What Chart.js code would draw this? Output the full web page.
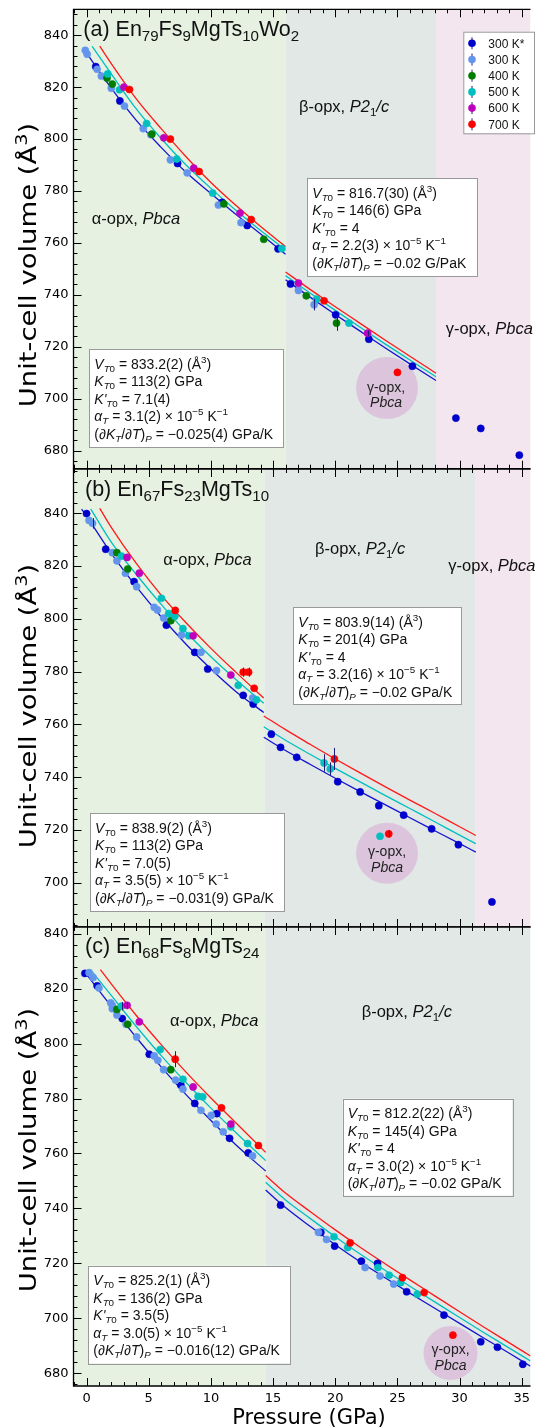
<!DOCTYPE html>
<html><head><meta charset="utf-8">
<script src="https://cdn.jsdelivr.net/npm/chart.js@4.4.1/dist/chart.umd.min.js"></script>
<style>
html,body{margin:0;padding:0;background:#fff;}
body{width:535px;height:1428px;position:relative;overflow:hidden;}
canvas{position:absolute;left:0;}
</style></head><body>
<canvas id="ca" width="535" height="480" style="top:0px;width:535px;height:480px"></canvas>
<canvas id="cb" width="535" height="478" style="top:459px;width:535px;height:478px"></canvas>
<canvas id="cc" width="535" height="511" style="top:917px;width:535px;height:511px"></canvas>
<script>
// ---------------- DATA ----------------
const xTickLabels = [0, 5, 10, 15, 20, 25, 30, 35];
const seriesNames = ['300 K*', '300 K', '400 K', '500 K', '600 K', '700 K'];

// Panel (a) En79Fs9MgTs10Wo2  [P (GPa), V (Å3)]
const a_300s = [[0.74,827.9],[2.68,814.7],[7.32,790.6],[10.9,775.6],[12.92,766.7],[15.4,757.7],[16.4,744.2],[20.03,732.3],[22.7,722.9],[26.2,712.5],[29.7,692.5],[31.7,688.5],[34.8,678.2]];
const a_300  = [[-0.1,834.2],[0.05,832.7],[0.85,826.9],[1.19,824.3],[1.99,819.6],[3.05,812.7],[4.56,804.0],[5.17,801.7],[6.74,792.0],[8.09,787.0],[10.6,774.6],[12.42,767.8],[17.04,741.7],[18.3,736.2]];
const a_400  = [[1.64,823.5],[2.07,821.2],[5.25,801.9],[11.04,775.0],[14.25,761.4],[17.67,739.6],[20.1,729.1]];
const a_500  = [[1.7,825.1],[2.65,819.0],[4.83,806.0],[7.25,792.3],[10.14,779.2],[15.7,757.8],[18.5,738.3],[21.1,729.1]];
const a_600  = [[3.0,820.0],[6.21,800.5],[8.62,788.8],[12.34,771.5],[17.04,744.5],[22.6,725.2]];
const a_700  = [[3.45,819.1],[6.74,800.0],[9.05,787.5],[13.24,769.0],[19.1,737.7],[25.0,710.1]];
const a_err  = [[18.3,736.2,2.2],[20.1,729.1,3.0],[22.6,725.2,1.0]];
const a_fit300 = [[[-0.27,835.2],[0,833.2],[2,819.5],[4,807.2],[6,796.8],[8,787.2],[10,779.0],[12,771.0],[14,763.4],[16,755.6]],
                  [[16,745.8],[18,739.0],[20,732.4],[22,726.0],[24,719.6],[26,713.4],[28.1,707.0]]];
const a_fit500 = [[[0.45,835.7],[2,825.0],[4,811.6],[6,800.2],[8,790.0],[10,781.0],[12,772.6],[14,764.8],[16,757.3]],
                  [[16,747.4],[18,740.6],[20,734.0],[22,727.5],[24,721.1],[26,714.9],[28.1,708.4]]];
const a_fit700 = [[[1.06,835.8],[2,829.0],[4,815.5],[6,804.0],[8,793.2],[10,783.3],[12,774.5],[14,766.3],[16,758.6]],
                  [[16,748.8],[18,742.0],[20,735.4],[22,729.0],[24,722.6],[26,716.3],[28.1,709.8]]];
const a_phaseLimits = [16.0, 28.1];
const a_yRange = [673, 850];

// Panel (b) En67Fs23MgTs10
const b_300s = [[0,839.9],[1.54,826.4],[3.82,814.1],[6.42,797.6],[8.7,787.3],[9.74,781.0],[12.6,771.0],[13.4,767.7],[14.86,756.3],[15.6,751.3],[16.9,747.5],[20.2,738.3],[22.0,734.4],[23.5,729.2],[25.5,725.6],[27.75,720.4],[29.9,714.4],[32.6,692.7]];
const b_300  = [[0.2,837.3],[0.48,836.2],[2.07,825.1],[2.44,822.0],[3.13,817.3],[4.03,812.2],[5.44,804.4],[5.7,803.4],[6.2,800.3],[7.64,793.9],[9.2,787.3],[10.45,780.4],[13.35,770.0]];
const b_400  = [[2.44,825.1],[3.31,818.9],[6.77,799.3]];
const b_500  = [[2.81,823.8],[6.02,807.8],[6.6,802.0],[7.1,801.0],[7.75,796.3],[8.22,793.6],[12.2,774.8],[13.66,769.3],[19.1,745.4],[19.6,743.1],[23.6,717.6]];
const b_600  = [[3.26,823.3],[4.24,817.3],[8.57,793.6],[11.6,778.7]];
const b_700  = [[7.13,803.2],[12.6,779.8],[13.03,779.8],[13.48,773.7],[19.93,746.9],[24.3,718.5]];
const b_err  = [[0.48,836.2,2.0],[12.6,779.8,1.7],[13.03,779.8,1.7],[19.1,745.4,3.3],[19.6,743.1,2.5],[19.93,746.9,4.2],[24.3,718.5,1.3]];
const b_fit300 = [[[-0.4,841.6],[0,838.9],[2,824.7],[4,812.2],[6,800.8],[8,790.4],[10,781.0],[12,772.5],[14.25,764.5]],
                  [[14.25,755.1],[16,750.1],[18,744.8],[20,739.6],[22,734.5],[24,729.6],[26,724.6],[28,719.7],[30,714.8],[31.3,711.6]]];
const b_fit500 = [[[0.34,841.6],[2,829.0],[4,816.8],[6,805.5],[8,795.0],[10,785.6],[12,777.0],[14.25,768.0]],
                  [[14.25,759.1],[16,754.0],[18,748.6],[20,743.3],[22,738.2],[24,733.1],[26,728.1],[28,723.1],[30,718.0],[31.3,714.8]]];
const b_fit700 = [[[1.06,841.9],[2,834.6],[4,821.0],[6,809.0],[8,798.5],[10,788.8],[12,779.8],[14.25,770.0]],
                  [[14.25,763.2],[16,758.0],[18,752.4],[20,746.9],[22,741.6],[24,736.4],[26,731.3],[28,726.3],[30,721.2],[31.3,717.9]]];
const b_phaseLimits = [14.3, 31.3];
const b_yRange = [683.2, 856.8];

// Panel (c) En68Fs8MgTs24
const c_300s = [[-0.13,825.5],[0.85,821.0],[2.87,809.1],[5.04,796.1],[7.59,784.8],[8.7,778.2],[10.48,774.5],[11.5,765.5],[13.0,760.2],[15.6,741.2],[18.84,731.3],[19.95,726.3],[22.1,720.8],[23.4,720.0],[25.74,709.7],[28.74,701.2],[31.7,691.5],[33.04,689.5],[35.08,683.3]];
const c_300  = [[0.2,825.8],[0.53,824.0],[1.0,820.2],[1.94,814.8],[2.07,813.9],[2.07,812.7],[2.44,810.4],[3.18,807.0],[4.03,802.4],[5.44,795.5],[5.73,793.9],[6.2,790.5],[7.16,786.7],[7.75,783.4],[9.2,775.7],[10.03,773.9],[10.43,770.7],[10.99,767.9],[13.35,759.1],[18.65,731.3],[19.3,728.7],[22.4,718.5],[23.6,715.4],[24.7,712.5]];
const c_400  = [[2.44,812.4],[3.31,807.0],[6.77,790.5]];
const c_500  = [[2.81,813.6],[5.92,797.8],[7.75,787.0],[8.97,780.8],[9.34,780.6],[11.6,769.7],[12.95,763.6],[19.9,729.7],[21.0,725.8],[23.43,718.5],[24.33,715.7],[25.26,713.0],[26.6,708.8]];
const c_600  = [[3.26,813.9],[4.24,807.9],[8.57,784.2],[11.6,770.7]];
const c_700  = [[7.13,794.3],[10.85,776.6],[13.82,762.9],[21.2,727.5],[25.4,714.8],[27.15,709.4],[29.46,693.9]];
const c_err  = [[2.81,813.6,1.5],[7.13,794.3,2.9],[3.26,813.9,1.2]];
const c_fit300 = [[[-0.25,826.7],[0,825.2],[2,813.5],[4,802.2],[6,791.5],[8,781.4],[10,772.0],[12,763.2],[14.4,753.6]],
                  [[14.4,746.7],[16,740.3],[18,733.4],[20,726.8],[22,720.6],[24,714.8],[26,709.2],[28,703.7],[30,698.2],[32,692.7],[34,687.3],[35.7,682.6]]];
const c_fit500 = [[[0.32,826.9],[2,817.4],[4,806.2],[6,795.6],[8,785.8],[10,776.5],[12,767.6],[14.4,757.4]],
                  [[14.4,749.5],[16,743.1],[18,736.3],[20,729.7],[22,723.4],[24,717.5],[26,711.7],[28,706.0],[30,700.3],[32,694.7],[34,689.2],[35.7,684.5]]];
const c_fit700 = [[[1.11,826.9],[2,821.6],[4,810.2],[6,799.6],[8,789.6],[10,780.2],[12,771.2],[14.4,760.4]],
                  [[14.4,752.0],[16,745.6],[18,738.8],[20,732.2],[22,725.9],[24,719.9],[26,714.0],[28,708.2],[30,702.4],[32,696.7],[34,691.1],[35.7,686.3]]];
const c_phaseLimits = [14.4, 99];
const c_yRange = [675.4, 842.4];

// EoS parameter texts
const a_eosAlpha = ['833.2(2)', '113(2)', '7.1(4)', '3.1(2)', '−0.025(4) GPa/K'];
const a_eosBeta  = ['816.7(30)', '146(6)', '4', '2.2(3)', '−0.02 G/PaK'];
const b_eosAlpha = ['838.9(2)', '113(2)', '7.0(5)', '3.5(5)', '−0.031(9) GPa/K'];
const b_eosBeta  = ['803.9(14)', '201(4)', '4', '3.2(16)', '−0.02 GPa/K'];
const c_eosAlpha = ['825.2(1)', '136(2)', '3.5(5)', '3.0(5)', '−0.016(12) GPa/K'];
const c_eosBeta  = ['812.2(22)', '145(4)', '4', '3.0(2)', '−0.02 GPa/K'];

// ---------------- STYLE ----------------
const X_MIN = -1.05, X_MAX = 35.7;
const PT_COLORS = ['#0000cd', '#6495ed', '#007d00', '#00bfbf', '#bf00bf', '#ff0000'];
const FIT_COLORS = ['#1414d2', '#00c0c0', '#ff1a1a'];
const ERR_COLOR = '#1e1e78';
const BG = {alpha: '#e6f1e1', beta: '#e1e8e5', gamma: '#f3e6ef', circle: '#dcc5dc'};
const SANS = "'Liberation Sans', Arial, sans-serif";
const DEJA = "'DejaVu Sans', sans-serif";

function rich(ctx, segs, x, base, size, family, align) {
  const parts = segs.map(s => {
    const t = typeof s === 'string' ? s : s[0];
    const f = typeof s === 'string' ? '' : (s[1] || '');
    const small = /[bp]/.test(f);
    const sz = small ? size * 0.7 : size;
    const font = (f.includes('i') ? 'italic ' : '') + sz + 'px ' + family;
    ctx.font = font;
    return {t, font, w: ctx.measureText(t).width, dy: f.includes('b') ? size * 0.22 : f.includes('p') ? -size * 0.42 : 0};
  });
  const W = parts.reduce((a, p) => a + p.w, 0);
  let cx = align === 'center' ? x - W / 2 : x;
  for (const p of parts) { ctx.font = p.font; ctx.fillText(p.t, cx, base + p.dy); cx += p.w; }
  return W;
}

function eosLines(v) {
  return [
    [['V','i'],['T','ib'],['0','b'],' = ' + v[0] + ' (Å',['3','p'],')'],
    [['K','i'],['T','ib'],['0','b'],' = ' + v[1] + ' GPa'],
    [["K'",'i'],['T','ib'],['0','b'],' = ' + v[2]],
    [['α','i'],['T','ib'],' = ' + v[3] + ' × 10',['−5','p'],' K',['−1','p']],
    ['(∂',['K','i'],['T','ib'],'/∂',['T','i'],')',['P','ib'],' = ' + v[4]]
  ];
}

function pts(arr) { return arr.map(([x, y]) => ({x, y})); }

function makePanel(cfg) {
  const datasets = [];
  cfg.fits.forEach((segs, i) => segs.forEach(seg => datasets.push({
    data: pts(seg), showLine: true, borderColor: FIT_COLORS[i], borderWidth: 1.3,
    pointRadius: 0, cubicInterpolationMode: 'monotone', fill: false, order: 10
  })));
  cfg.series.forEach((s, i) => datasets.push({
    data: pts(s), showLine: false, backgroundColor: PT_COLORS[i], borderColor: PT_COLORS[i],
    borderWidth: 0.5, pointRadius: 3.6, order: 6 - i
  }));
  const oy = cfg.top;
  const bgPlugin = {
    id: 'bg',
    beforeDatasetsDraw(chart) {
      const {ctx, chartArea: ca, scales: {x}} = chart;
      ctx.save();
      ctx.beginPath(); ctx.rect(ca.left, ca.top, ca.right - ca.left, ca.bottom - ca.top); ctx.clip();
      const b1 = x.getPixelForValue(cfg.phase[0]);
      const b2 = Math.min(x.getPixelForValue(cfg.phase[1]), ca.right);
      ctx.fillStyle = BG.alpha; ctx.fillRect(ca.left, ca.top, b1 - ca.left, ca.bottom - ca.top);
      ctx.fillStyle = BG.beta; ctx.fillRect(b1, ca.top, b2 - b1, ca.bottom - ca.top);
      if (b2 < ca.right) { ctx.fillStyle = BG.gamma; ctx.fillRect(b2, ca.top, ca.right - b2, ca.bottom - ca.top); }
      const c = cfg.circle;
      ctx.fillStyle = BG.circle; ctx.beginPath(); ctx.ellipse(c.x, c.y - oy, c.rx, c.ry, 0, 0, Math.PI * 2); ctx.fill();
      ctx.fillStyle = '#222';
      ctx.textAlign = 'left'; ctx.textBaseline = 'alphabetic';
      rich(ctx, ['γ-opx,'], c.tx, c.b1 - oy, 14, SANS, 'center');
      rich(ctx, [['Pbca','i']], c.tx, c.b2 - oy, 14, SANS, 'center');
      ctx.restore();
    },
    afterDatasetsDraw(chart) {
      const {ctx, scales: {x, y}} = chart;
      ctx.save();
      ctx.strokeStyle = ERR_COLOR; ctx.lineWidth = 1;
      cfg.err.forEach(([px, py, e]) => {
        const X = Math.round(x.getPixelForValue(px)) + 0.5;
        ctx.beginPath(); ctx.moveTo(X, y.getPixelForValue(py - e)); ctx.lineTo(X, y.getPixelForValue(py + e)); ctx.stroke();
      });
      ctx.restore();
    },
    afterDraw(chart) {
      const {ctx, chartArea: ca, scales: {x, y}} = chart;
      ctx.save();
      ctx.strokeStyle = '#000'; ctx.lineWidth = 1;
      ctx.beginPath();
      for (let v = -1; v <= 35; v++) {
        const X = Math.round(x.getPixelForValue(v)) + 0.5;
        const L = v % 5 === 0 ? 8 : 4;
        ctx.moveTo(X, ca.top); ctx.lineTo(X, ca.top + L);
        ctx.moveTo(X, ca.bottom); ctx.lineTo(X, ca.bottom - L);
      }
      for (let v = Math.ceil(cfg.yr[0] / 4) * 4; v <= cfg.yr[1]; v += 4) {
        const Y = Math.round(y.getPixelForValue(v)) + 0.5;
        const L = v % 20 === 0 ? 8 : 4;
        ctx.moveTo(ca.left, Y); ctx.lineTo(ca.left + L, Y);
      }
      ctx.stroke();
      ctx.lineWidth = 1.3;
      ctx.beginPath();
      ctx.moveTo(ca.right, ca.top); ctx.lineTo(ca.left, ca.top); ctx.lineTo(ca.left, ca.bottom); ctx.lineTo(ca.right, ca.bottom);
      ctx.stroke();

      ctx.fillStyle = '#111'; ctx.textAlign = 'left'; ctx.textBaseline = 'alphabetic';
      rich(ctx, cfg.title, cfg.titlePos[0], cfg.titlePos[1] - oy, 21.5, SANS, 'left');
      cfg.phaseLabels.forEach(l => rich(ctx, l.segs, l.x, l.b - oy, 16.5, SANS, 'left'));
      cfg.boxes.forEach(bx => {
        ctx.fillStyle = '#fff'; ctx.strokeStyle = '#999'; ctx.lineWidth = 1;
        ctx.fillRect(bx.x0, bx.y0 - oy, bx.x1 - bx.x0, bx.y1 - bx.y0);
        ctx.strokeRect(Math.round(bx.x0) + 0.5, Math.round(bx.y0 - oy) + 0.5, Math.round(bx.x1 - bx.x0), Math.round(bx.y1 - bx.y0));
        ctx.fillStyle = '#111';
        eosLines(bx.v).forEach((ln, k) => rich(ctx, ln, bx.x0 + 5, bx.y0 - oy + 19.5 + 17.5 * k, 14, SANS, 'left'));
      });
      if (cfg.legend) {
        const L = cfg.legend;
        ctx.fillStyle = '#fff'; ctx.strokeStyle = '#999'; ctx.lineWidth = 1;
        ctx.fillRect(L.x0, L.y0 - oy, L.x1 - L.x0, L.y1 - L.y0);
        ctx.strokeRect(L.x0 + 0.5, L.y0 - oy + 0.5, L.x1 - L.x0, L.y1 - L.y0);
        seriesNames.forEach((nm, k) => {
          const cy = L.row0 + L.dy * k - oy;
          ctx.strokeStyle = ERR_COLOR; ctx.lineWidth = 1;
          ctx.beginPath(); ctx.moveTo(L.mx + 0.5, cy - 6); ctx.lineTo(L.mx + 0.5, cy + 6); ctx.stroke();
          ctx.fillStyle = PT_COLORS[k]; ctx.beginPath(); ctx.arc(L.mx + 0.5, cy, 3.8, 0, Math.PI * 2); ctx.fill();
          ctx.fillStyle = '#111';
          rich(ctx, [nm], L.tx, cy + 4.3, 12, SANS, 'left');
        });
      }
      // y-axis title (stretched along its length, as in the reference)
      ctx.save();
      ctx.translate(28, cfg.yTitleC - oy);
      ctx.rotate(-Math.PI / 2);
      ctx.scale(1.22, 1);
      ctx.fillStyle = '#000';
      rich(ctx, ['Unit-cell volume (Å', ['3', 'p'], ')'], 0, 8, 22.5, DEJA, 'center');
      ctx.restore();
      if (cfg.showX) {
        ctx.fillStyle = '#000';
        rich(ctx, ['Pressure (GPa)'], 309, 1424 - oy, 21, DEJA, 'center');
      }
      ctx.restore();
    }
  };

  return new Chart(document.getElementById(cfg.id), {
    type: 'scatter',
    data: {datasets},
    options: {
      responsive: false, animation: false, devicePixelRatio: 1,
      layout: {padding: {top: cfg.padTop, bottom: cfg.padBottom, left: 0, right: 0}},
      plugins: {legend: {display: false}, tooltip: {enabled: false}},
      scales: {
        x: {
          type: 'linear', min: X_MIN, max: X_MAX, display: cfg.showX,
          grid: {display: false, drawTicks: false}, border: {display: false},
          ticks: {color: '#000', font: {family: DEJA, size: 13}, padding: 5, maxRotation: 0, autoSkip: false},
          afterBuildTicks(s) { s.ticks = xTickLabels.map(v => ({value: v})); },
          afterFit(s) { s.height = cfg.showX ? 42 : 0; s.paddingLeft = 0; s.paddingRight = 0; }
        },
        y: {
          type: 'linear', min: cfg.yr[0], max: cfg.yr[1],
          grid: {display: false, drawTicks: false}, border: {display: false},
          ticks: {color: '#000', font: {family: DEJA, size: 13}, padding: 5, autoSkip: false},
          afterBuildTicks(s) {
            const t = [];
            for (let v = Math.ceil(cfg.yr[0] / 20) * 20; v <= cfg.yr[1]; v += 20) t.push({value: v});
            s.ticks = t;
          },
          afterFit(s) { s.width = 73.5; s.paddingTop = 0; s.paddingBottom = 0; }
        }
      }
    },
    plugins: [bgPlugin]
  });
}

const betaLbl = (x, b) => ({x, b, segs: ['β-opx, ', ['P2', 'i'], ['1', 'b'], ['/c', 'i']]});
const alphaLbl = (x, b) => ({x, b, segs: ['α-opx, ', ['Pbca', 'i']]});
const gammaLbl = (x, b) => ({x, b, segs: ['γ-opx, ', ['Pbca', 'i']]});

makePanel({
  id: 'ca', top: 0, padTop: 9.3, padBottom: 11.3, showX: false, yr: a_yRange, phase: a_phaseLimits,
  series: [a_300s, a_300, a_400, a_500, a_600, a_700], fits: [a_fit300, a_fit500, a_fit700], err: a_err,
  title: ['(a) En', ['79', 'b'], 'Fs', ['9', 'b'], 'MgTs', ['10', 'b'], 'Wo', ['2', 'b']], titlePos: [83.3, 36],
  phaseLabels: [alphaLbl(91.7, 224), betaLbl(299, 112), gammaLbl(445.7, 333.5)],
  boxes: [{x0: 89.3, y0: 349.3, x1: 283.3, y1: 447.3, v: a_eosAlpha}, {x0: 307.3, y0: 178.3, x1: 477.3, y1: 276.7, v: a_eosBeta}],
  circle: {x: 387, y: 388, rx: 31, ry: 31, tx: 386, b1: 391.7, b2: 406.5},
  legend: {x0: 463.3, y0: 31.7, x1: 534, y1: 133.3, mx: 471.5, tx: 488.3, row0: 43.3, dy: 16.2},
  yTitleC: 265
});
makePanel({
  id: 'cb', top: 459, padTop: 10, padBottom: 10, showX: false, yr: b_yRange, phase: b_phaseLimits,
  series: [b_300s, b_300, b_400, b_500, b_600, b_700], fits: [b_fit300, b_fit500, b_fit700], err: b_err,
  title: ['(b) En', ['67', 'b'], 'Fs', ['23', 'b'], 'MgTs', ['10', 'b']], titlePos: [85, 496],
  phaseLabels: [alphaLbl(163.3, 565), betaLbl(315, 554), gammaLbl(448.3, 571)],
  boxes: [{x0: 90, y0: 813.3, x1: 284, y1: 911.7, v: b_eosAlpha}, {x0: 293.3, y0: 607.3, x1: 461.7, y1: 704.3, v: b_eosBeta}],
  circle: {x: 387, y: 853.3, rx: 31, ry: 30.5, tx: 387, b1: 855.5, b2: 871.5},
  legend: null,
  yTitleC: 706
});
makePanel({
  id: 'cc', top: 917, padTop: 10, padBottom: 0, showX: true, yr: c_yRange, phase: c_phaseLimits,
  series: [c_300s, c_300, c_400, c_500, c_600, c_700], fits: [c_fit300, c_fit500, c_fit700], err: c_err,
  title: ['(c) En', ['68', 'b'], 'Fs', ['8', 'b'], 'MgTs', ['24', 'b']], titlePos: [85, 953.3],
  phaseLabels: [alphaLbl(170, 1026), betaLbl(361.7, 1017.3)],
  boxes: [{x0: 88.3, y0: 1265.7, x1: 290, y1: 1363.3, v: c_eosAlpha}, {x0: 342.7, y0: 1098.7, x1: 512.3, y1: 1195.7, v: c_eosBeta}],
  circle: {x: 450.5, y: 1353, rx: 27, ry: 27, tx: 450.5, b1: 1353.5, b2: 1369.5},
  legend: null,
  yTitleC: 1150
});
</script>
</body></html>
